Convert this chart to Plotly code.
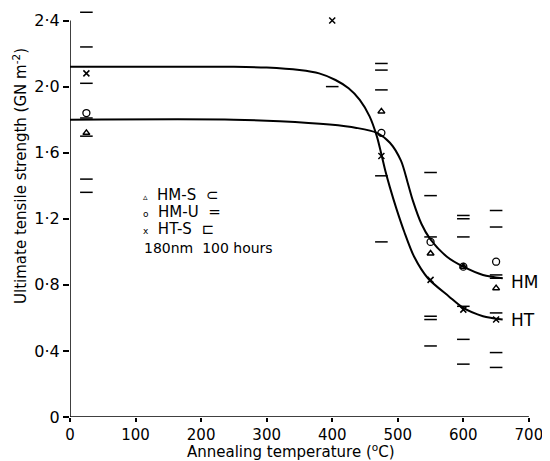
import plotly.graph_objs as go

# measured points
temp = [25, 475, 550, 600, 650]
hm_s = [1.72, 1.85, 0.99, 0.91, 0.78]
hm_u = [1.84, 1.72, 1.06, 0.91, 0.94]
ht_s_temp = [25, 400, 475, 550, 600, 650]
ht_s = [2.08, 2.40, 1.58, 0.83, 0.65, 0.59]

# scatter-band limits (short dashes)
limit_temp = [25, 25, 25, 25, 25, 25, 25,
              400,
              475, 475, 475, 475, 475,
              550, 550, 550, 550, 550, 550,
              600, 600, 600, 600, 600, 600,
              650, 650, 650, 650, 650, 650, 650]
limit_uts = [2.45, 2.24, 2.02, 1.81, 1.70, 1.44, 1.36,
             2.00,
             2.14, 2.10, 1.98, 1.46, 1.06,
             1.48, 1.34, 1.09, 0.61, 0.59, 0.43,
             1.22, 1.20, 1.09, 0.67, 0.47, 0.32,
             1.25, 1.15, 0.86, 0.84, 0.63, 0.39, 0.30]

# fitted curves
hm_curve_t = [0, 250, 320, 396, 437, 468, 488, 505, 515, 523, 536, 549, 575, 600, 630, 660]
hm_curve_v = [1.80, 1.80, 1.79, 1.77, 1.75, 1.72, 1.66, 1.55, 1.42, 1.31, 1.17, 1.08, 0.97, 0.91, 0.86, 0.84]
ht_curve_t = [0, 250, 300, 350, 380, 405, 425, 442, 457, 468, 475, 481, 488, 498, 510, 525, 546, 578, 600, 630, 660]
ht_curve_v = [2.12, 2.12, 2.115, 2.10, 2.08, 2.04, 1.99, 1.92, 1.82, 1.70, 1.59, 1.49, 1.39, 1.26, 1.12, 0.97, 0.84, 0.73, 0.66, 0.61, 0.59]

x_ticks = [0, 100, 200, 300, 400, 500, 600, 700]
y_ticks = [0, 0.4, 0.8, 1.2, 1.6, 2.0, 2.4]
y_tick_labels = ["0", "0·4", "0·8", "1·2", "1·6", "2·0", "2·4"]

FONT = "DejaVu Sans"
INK = "black"

# page body has an 8px margin, so the figure is drawn 8px smaller
W, H = 542, 453
L, R, T, B = 62, 8, 0, 44
PW, PH = W - L - R, H - T - B


def px(xw):
    # window x pixel -> paper x
    return (xw - 8 - L) / PW


def py(yw):
    # window y pixel -> paper y
    return (H - B - (yw - 8)) / PH


fig = go.Figure()
fig.add_trace(go.Scatter(x=hm_curve_t, y=hm_curve_v, mode="lines",
                         line=dict(color=INK, width=2, shape="spline", smoothing=0.8)))
fig.add_trace(go.Scatter(x=ht_curve_t, y=ht_curve_v, mode="lines",
                         line=dict(color=INK, width=2, shape="spline", smoothing=0.8)))
fig.add_trace(go.Scatter(x=limit_temp, y=limit_uts, mode="markers",
                         marker=dict(symbol="line-ew-open", size=9, color=INK,
                                     line=dict(color=INK, width=1.5))))
fig.add_trace(go.Scatter(x=temp, y=hm_s, mode="markers",
                         marker=dict(symbol="triangle-up-open", size=6, color=INK, line=dict(width=1.5))))
fig.add_trace(go.Scatter(x=temp, y=hm_u, mode="markers",
                         marker=dict(symbol="circle-open", size=7, color=INK, line=dict(width=1.3))))
fig.add_trace(go.Scatter(x=ht_s_temp, y=ht_s, mode="markers",
                         marker=dict(symbol="x-thin-open", size=6, color=INK, line=dict(width=1.5))))

# axis lines stop at the last tick
fig.add_shape(type="line", x0=0, x1=700, y0=0, y1=0, line=dict(color=INK, width=1.5))
fig.add_shape(type="line", x0=0, x1=0, y0=0, y1=2.4, line=dict(color=INK, width=1.5))

# curve labels
fig.add_annotation(x=670, y=0.82, text="HM", showarrow=False, xanchor="left", font=dict(size=17))
fig.add_annotation(x=670, y=0.59, text="HT", showarrow=False, xanchor="left", font=dict(size=17))

# key
key_lines = [("▵", "HM-S  ⊂", 195), ("o", "HM-U  =", 212), ("x", "HT-S  ⊏", 229)]
for sym, label, yw in key_lines:
    fig.add_annotation(xref="paper", yref="paper", x=px(141), y=py(yw),
                       text=f"<span style='font-size:9px'>{sym}</span>  {label}",
                       showarrow=False, xanchor="left", yanchor="middle", font=dict(size=15))
fig.add_annotation(xref="paper", yref="paper", x=px(142), y=py(248),
                   text="180nm  100 hours", showarrow=False, xanchor="left", yanchor="middle",
                   font=dict(size=14))

# axis titles
fig.add_annotation(xref="paper", yref="paper", x=px(291), y=py(451),
                   text="Annealing temperature (<sup>o</sup>C)", showarrow=False,
                   xanchor="center", yanchor="middle", font=dict(size=15))
fig.add_annotation(xref="paper", yref="paper", x=px(20), y=py(176),
                   text="Ultimate tensile strength (GN m<sup>-2</sup>)", showarrow=False, textangle=-90,
                   xanchor="center", yanchor="middle", font=dict(size=15))

fig.update_layout(
    width=W, height=H,
    margin=dict(l=L, r=R, t=T, b=B, pad=0),
    paper_bgcolor="white", plot_bgcolor="white",
    showlegend=False,
    font=dict(family=FONT, color=INK, size=15),
)
fig.update_xaxes(range=[0, 720], tickvals=x_ticks, ticks="outside", ticklen=4, tickwidth=1.5,
                 tickcolor=INK, showline=False, showgrid=False, zeroline=False, automargin=False,
                 tickfont=dict(size=15))
fig.update_yaxes(range=[0, PH / 165.2], tickvals=y_ticks, ticktext=y_tick_labels, ticks="outside",
                 ticklen=6, tickwidth=1.5, tickcolor=INK, showline=False, showgrid=False,
                 zeroline=False, automargin=False, tickfont=dict(size=16))

fig.write_html("out.html")
